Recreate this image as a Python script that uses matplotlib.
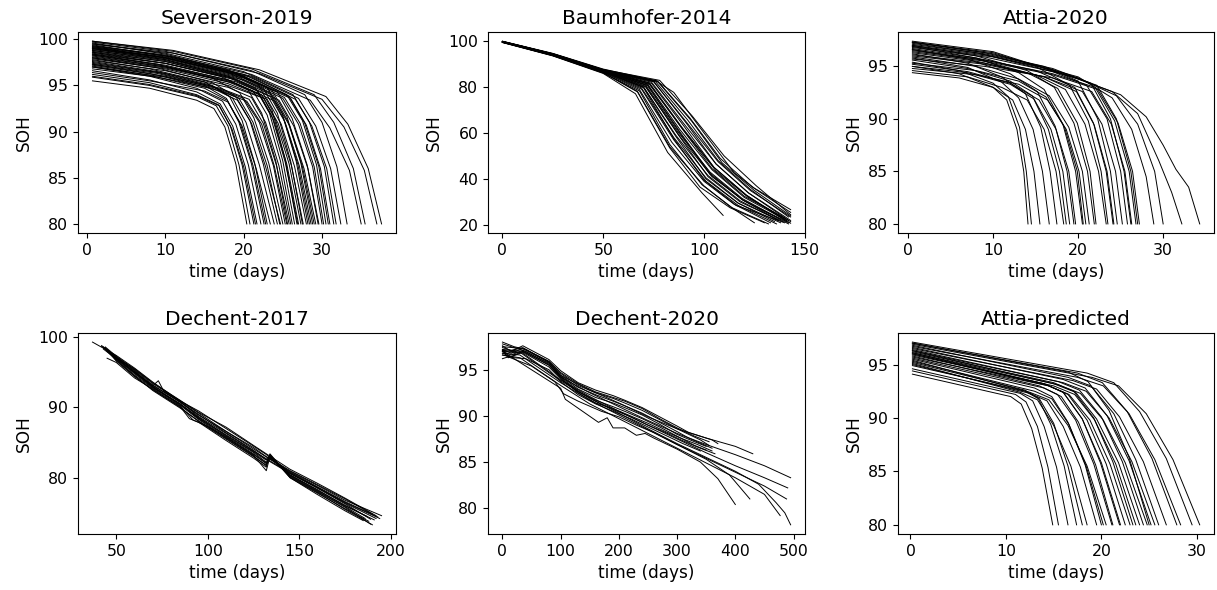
import matplotlib
matplotlib.use("Agg")
import matplotlib.pyplot as plt

# SOH curves, one list of (time in days, SOH) per cell

severson = [
    [(0.7, 95.5), (8, 94.7), (14, 93.4), (16.2, 92.5), (17.6, 90.5), (19.0, 86.5), (20.4, 80)],
    [(0.7, 95.9), (8, 95.0), (14, 93.8), (16.5, 92.8), (18.0, 90.6), (19.4, 86.4), (20.8, 80)],
    [(0.7, 96.2), (8, 95.3), (14, 94.0), (16.8, 92.9), (18.3, 90.6), (19.8, 86.4), (21.3, 80)],
    [(0.7, 96.6), (8, 95.6), (14, 94.3), (17.0, 93.0), (18.6, 90.6), (20.2, 86.2), (21.7, 80)],
    [(0.7, 97.0), (8, 96.0), (14, 94.7), (17.3, 93.3), (19.0, 90.8), (20.6, 86.4), (22.2, 80)],
    [(0.7, 97.3), (8, 96.3), (15, 95.0), (17.8, 93.6), (19.4, 91.0), (21.0, 86.5), (22.6, 80)],
    [(0.7, 97.8), (8, 96.8), (15, 95.4), (18.2, 93.8), (19.8, 91.2), (21.4, 86.6), (23.0, 80)],
    [(0.7, 96.4), (8, 95.5), (15, 94.4), (18.0, 93.2), (19.8, 90.6), (21.6, 86.0), (23.4, 80)],
    [(0.7, 97.6), (9, 96.5), (16, 95.0), (18.6, 93.6), (20.3, 91.0), (22.0, 86.4), (23.9, 80)],
    [(0.7, 98.0), (9, 96.9), (16, 95.3), (19.0, 93.8), (20.8, 91.2), (22.5, 86.5), (24.3, 80)],
    [(0.7, 96.8), (9, 95.9), (16, 94.7), (19.2, 93.4), (21.0, 90.9), (22.8, 86.2), (24.7, 80)],
    [(0.7, 98.4), (9, 97.3), (16, 95.8), (19.5, 94.2), (21.3, 91.5), (23.2, 86.6), (25.0, 80)],
    [(0.7, 97.2), (10, 96.0), (17, 94.6), (20.0, 93.6), (22.0, 91.0), (23.8, 86.3), (25.3, 80)],
    [(0.7, 98.6), (10, 97.4), (17, 96.0), (20.5, 94.6), (22.3, 92.0), (24.1, 86.8), (25.6, 80)],
    [(0.7, 97.5), (10, 96.3), (18, 94.8), (21.0, 93.7), (22.8, 91.0), (24.5, 86.3), (26.0, 80)],
    [(0.7, 99.0), (10, 97.8), (18, 96.0), (21.5, 94.7), (23.3, 92.0), (25.0, 86.8), (26.5, 80)],
    [(0.7, 98.2), (10, 97.0), (18, 95.4), (22.0, 94.0), (23.8, 91.3), (25.5, 86.5), (27.0, 80)],
    [(0.7, 99.2), (10, 98.0), (18, 96.4), (22.5, 94.7), (24.3, 92.0), (26.0, 86.8), (27.5, 80)],
    [(0.7, 97.9), (10, 96.8), (18, 95.2), (23.0, 93.5), (24.8, 90.8), (26.5, 86.2), (28.0, 80)],
    [(0.7, 98.8), (10, 97.7), (19, 95.9), (23.3, 94.2), (25.1, 91.4), (26.9, 86.5), (28.4, 80)],
    [(0.7, 99.4), (10, 98.2), (19, 96.3), (23.6, 94.5), (25.5, 91.7), (27.3, 86.6), (28.8, 80)],
    [(0.7, 98.0), (10, 96.9), (19, 95.2), (24.0, 93.3), (25.9, 90.6), (27.7, 86.0), (29.2, 80)],
    [(0.7, 99.1), (10, 98.0), (19, 96.2), (24.3, 94.3), (26.2, 91.4), (28.1, 86.4), (29.6, 80)],
    [(0.7, 98.5), (10, 97.4), (19, 95.7), (23.8, 93.9), (25.6, 91.2), (27.5, 86.2), (29.0, 80)],
    [(0.7, 97.0), (10, 95.9), (17, 94.4), (20.4, 93.3), (22.3, 90.8), (23.9, 86.3), (25.5, 80)],
    [(0.7, 98.3), (10, 97.1), (18, 95.6), (21.2, 94.4), (23.0, 91.8), (24.7, 86.8), (26.2, 80)],
    [(0.7, 99.6), (10, 98.4), (18, 96.7), (21.8, 95.2), (23.6, 92.4), (25.3, 87.0), (26.8, 80)],
    [(0.7, 98.1), (10, 97.0), (18, 95.5), (22.3, 94.0), (24.1, 91.2), (25.8, 86.5), (27.3, 80)],
    [(0.7, 98.6), (10, 97.6), (20, 95.6), (25.0, 93.6), (27.0, 90.8), (28.8, 86.2), (30.0, 80)],
    [(0.7, 99.3), (10, 98.3), (20, 96.2), (25.5, 94.0), (27.5, 91.2), (29.3, 86.4), (30.5, 80)],
    [(0.7, 98.9), (10, 97.9), (20, 95.9), (26.0, 93.6), (28.0, 90.7), (29.8, 86.0), (31.0, 80)],
    [(0.7, 99.5), (10, 98.5), (20, 96.5), (26.3, 94.0), (28.4, 91.0), (30.3, 86.2), (31.5, 80)],
    [(0.7, 99.1), (10, 98.1), (21, 96.0), (27.0, 93.6), (29.2, 90.6), (31.1, 86.0), (32.4, 80)],
    [(0.7, 99.7), (10, 98.7), (21, 96.6), (27.8, 94.0), (30.0, 91.0), (31.9, 86.2), (33.2, 80)],
    [(0.7, 99.2), (11, 98.1), (21, 96.2), (28.5, 93.4), (31.0, 90.4), (33.5, 85.8), (35.0, 80)],
    [(0.7, 99.8), (11, 98.7), (21, 96.8), (29.0, 94.0), (31.5, 91.0), (34.0, 86.0), (35.5, 80)],
    [(0.7, 99.5), (11, 98.5), (22, 96.3), (30.0, 93.5), (32.8, 90.5), (35.4, 85.8), (37.0, 80)],
    [(0.7, 99.8), (11, 98.8), (22, 96.7), (30.5, 93.8), (33.3, 90.8), (35.9, 86.0), (37.6, 80)],
    [(0.7, 98.8), (10, 97.8), (20, 95.8), (25.2, 93.7), (27.2, 90.9), (29.0, 86.2), (30.2, 80)],
    [(0.7, 99.0), (10, 98.0), (21, 95.9), (26.6, 93.5), (28.7, 90.6), (30.6, 86.0), (31.8, 80)],
    [(0.7, 97.4), (9, 96.4), (16, 94.9), (19.4, 93.6), (21.2, 91.0), (23.0, 86.3), (24.6, 80)],
    [(0.7, 98.7), (10, 97.6), (18, 95.9), (21.8, 94.4), (23.6, 91.7), (25.3, 86.7), (26.9, 80)],
    [(0.7, 97.7), (10, 96.6), (18, 95.0), (22.6, 93.6), (24.4, 90.9), (26.1, 86.3), (27.6, 80)],
    [(0.7, 99.3), (10, 98.2), (19, 96.4), (23.0, 94.8), (24.9, 92.0), (26.7, 86.8), (28.2, 80)],
    [(0.7, 98.4), (10, 97.4), (19, 95.6), (24.5, 93.4), (26.4, 90.6), (28.2, 86.0), (29.5, 80)],
    [(0.7, 96.0), (8, 95.1), (14, 93.9), (16.9, 92.8), (18.5, 90.3), (20.0, 86.2), (21.5, 80)],
    [(0.7, 97.1), (8, 96.1), (15, 94.7), (17.9, 93.4), (19.6, 90.8), (21.2, 86.3), (22.8, 80)],
    [(0.7, 99.0), (10, 98.0), (20, 96.0), (25.8, 93.8), (27.8, 90.9), (29.6, 86.2), (30.8, 80)],
    [(0.7, 98.3), (10, 97.2), (19, 95.4), (23.4, 93.8), (25.3, 91.0), (27.1, 86.3), (28.6, 80)],
    [(0.7, 97.3), (9, 96.3), (17, 94.7), (20.7, 93.5), (22.5, 90.9), (24.2, 86.3), (25.8, 80)],
]

baumhofer = [
    [(0, 99.2), (25, 93.4), (50, 85.8), (66, 77.0), (82, 51.5), (99, 34.0), (109.5, 24.2)],
    [(0, 99.3), (25, 93.6), (50, 86.2), (67, 78.0), (83, 54.0), (100, 37.0), (113, 28.0), (125, 21.0)],
    [(0, 99.4), (25, 93.7), (50, 86.4), (68, 78.8), (84, 56.0), (100, 39.0), (115, 29.0), (133, 21.0)],
    [(0, 99.5), (25, 93.9), (50, 86.7), (69, 79.5), (85, 58.0), (101, 40.5), (117, 29.5), (135, 21.5)],
    [(0, 99.4), (25, 93.8), (50, 86.6), (70, 80.0), (86, 59.0), (102, 41.5), (118, 30.5), (137, 22.0)],
    [(0, 99.6), (25, 94.0), (50, 87.0), (71, 80.8), (87, 60.5), (103, 43.0), (119, 31.5), (138, 22.5)],
    [(0, 99.5), (25, 93.9), (50, 86.8), (70, 79.6), (85, 57.5), (100, 39.5), (116, 28.5), (140, 21.0)],
    [(0, 99.6), (25, 94.1), (50, 87.1), (72, 81.2), (88, 61.5), (104, 44.0), (120, 32.0), (141, 22.0)],
    [(0, 99.5), (25, 94.0), (50, 86.9), (72, 80.8), (88, 60.5), (103, 42.5), (119, 31.0), (142, 21.0)],
    [(0, 99.7), (25, 94.3), (50, 87.4), (73, 81.6), (89, 62.5), (105, 45.0), (121, 33.0), (143, 20.8)],
    [(0, 99.3), (25, 93.5), (50, 86.0), (68, 78.2), (83, 55.0), (99, 37.5), (114, 27.5), (132, 20.5)],
    [(0, 99.6), (25, 94.2), (50, 87.2), (74, 82.0), (90, 64.0), (106, 46.5), (122, 34.0), (142, 22.0)],
    [(0, 99.5), (25, 94.0), (50, 87.0), (75, 82.2), (91, 65.0), (107, 47.5), (123, 35.0), (143, 23.5)],
    [(0, 99.8), (25, 94.5), (50, 87.7), (76, 82.7), (85, 77.6), (100, 60.0), (115, 42.7), (125, 36.0), (143, 26.7)],
    [(0, 99.6), (25, 94.2), (50, 87.3), (77, 82.5), (93, 66.5), (108, 49.0), (124, 36.5), (143, 25.5)],
    [(0, 99.7), (25, 94.4), (50, 87.5), (78, 82.8), (94, 67.5), (110, 50.0), (126, 37.0), (143, 24.5)],
    [(0, 99.5), (25, 93.9), (50, 86.8), (71, 80.3), (87, 59.5), (102, 41.0), (118, 30.0), (139, 21.5)],
    [(0, 99.4), (25, 93.7), (50, 86.5), (69, 79.0), (85, 57.0), (101, 39.0), (117, 28.5), (136, 20.5)],
    [(0, 99.6), (25, 94.1), (50, 87.0), (73, 81.3), (89, 62.0), (104, 44.5), (120, 32.5), (140, 23.0)],
    [(0, 99.5), (25, 94.0), (50, 86.9), (74, 81.5), (90, 63.0), (105, 45.0), (121, 33.0), (141, 21.5)],
    [(0, 99.7), (25, 94.3), (50, 87.4), (75, 82.4), (91, 64.5), (106, 46.5), (122, 34.0), (143, 22.0)],
    [(0, 99.6), (25, 94.2), (50, 87.2), (76, 82.2), (92, 65.5), (107, 48.0), (123, 35.5), (142, 23.5)],
    [(0, 99.4), (25, 93.8), (50, 86.6), (70, 79.8), (86, 58.5), (101, 40.0), (117, 29.5), (138, 21.0)],
    [(0, 99.5), (25, 93.9), (50, 86.8), (72, 80.5), (88, 60.0), (103, 42.0), (119, 31.0), (137, 22.0)],
    [(0, 99.3), (25, 93.6), (50, 86.1), (67, 77.8), (83, 53.5), (98, 36.5), (113, 27.5), (130, 21.0)],
    [(0, 99.6), (25, 94.1), (50, 87.1), (73, 81.0), (90, 61.0), (106, 43.5), (122, 32.0), (143, 21.5)],
    [(0, 99.5), (25, 94.0), (50, 86.9), (71, 80.0), (88, 58.5), (104, 41.0), (120, 30.5), (142, 20.5)],
    [(0, 99.7), (25, 94.3), (50, 87.4), (77, 82.3), (94, 65.0), (109, 47.0), (125, 35.0), (143, 24.0)],
]

attia = [
    [(0.5, 95.0), (6, 94.3), (10, 93.0), (11.6, 91.8), (12.8, 89.0), (13.6, 85.0), (14.1, 80)],
    [(0.5, 95.4), (6, 94.6), (10, 93.4), (11.8, 92.1), (13.1, 89.2), (13.9, 85.0), (14.5, 80)],
    [(0.5, 94.4), (6, 93.9), (10, 93.0), (12.3, 91.8), (13.8, 89.0), (14.8, 85.0), (15.5, 80)],
    [(0.5, 95.8), (7, 94.9), (11, 93.5), (13.0, 92.0), (14.7, 89.0), (15.8, 85.0), (16.6, 80)],
    [(0.5, 96.2), (7, 95.3), (11, 94.0), (13.8, 92.4), (15.6, 89.2), (16.7, 85.0), (17.5, 80)],
    [(0.5, 94.6), (7, 94.0), (11, 93.0), (14.0, 91.8), (16.0, 89.0), (17.4, 85.0), (18.3, 80)],
    [(0.5, 95.6), (7, 94.8), (12, 93.6), (14.6, 92.2), (16.5, 89.0), (17.8, 85.0), (18.6, 80)],
    [(0.5, 96.6), (7, 95.7), (12, 94.3), (15.2, 92.6), (17.3, 89.3), (18.7, 85.0), (19.5, 80)],
    [(0.5, 95.2), (7, 94.5), (12, 93.4), (15.4, 91.8), (17.4, 89.0), (18.9, 85.0), (19.7, 80)],
    [(0.5, 96.9), (8, 95.8), (13, 94.4), (16.0, 92.8), (18.2, 89.5), (19.7, 85.0), (20.5, 80)],
    [(0.5, 95.9), (8, 95.0), (13, 93.8), (16.6, 92.2), (18.9, 89.2), (20.5, 85.0), (21.3, 80)],
    [(0.5, 97.0), (8, 96.0), (14, 94.6), (17.2, 93.0), (19.5, 89.6), (21.1, 85.0), (21.9, 80)],
    [(0.5, 96.3), (8, 95.5), (15, 94.2), (18.5, 92.8), (20.8, 89.5), (22.4, 85.0), (23.3, 80)],
    [(0.5, 97.2), (8, 96.3), (15, 95.0), (19.0, 93.2), (21.2, 89.8), (22.7, 85.0), (23.5, 80)],
    [(0.5, 96.7), (8, 95.8), (15, 94.6), (19.6, 93.0), (21.8, 89.6), (23.3, 85.0), (24.1, 80)],
    [(0.5, 97.3), (9, 96.3), (16, 95.0), (20.0, 93.6), (22.3, 90.0), (23.8, 85.0), (24.6, 80)],
    [(0.5, 96.0), (9, 95.2), (16, 94.0), (20.5, 92.6), (22.8, 89.5), (24.4, 85.0), (25.2, 80)],
    [(0.5, 96.8), (9, 95.9), (17, 94.5), (21.0, 93.2), (23.4, 90.0), (25.0, 85.0), (25.8, 80)],
    [(0.5, 97.1), (9, 96.2), (17, 94.8), (21.5, 93.4), (23.8, 90.0), (25.4, 85.0), (26.2, 80)],
    [(0.5, 96.5), (9, 95.6), (17, 94.3), (22.0, 93.0), (24.3, 89.8), (26.0, 85.0), (26.8, 80)],
    [(0.5, 96.4), (9, 95.5), (17, 94.2), (22.3, 92.8), (24.7, 89.6), (26.4, 85.0), (27.2, 80)],
    [(0.5, 97.3), (10, 96.2), (20, 94.0), (24.0, 92.0), (26.3, 89.0), (28.0, 84.5), (28.9, 80)],
    [(0.5, 96.9), (10, 95.9), (20, 93.9), (24.5, 92.2), (27.0, 89.5), (29.0, 85.0), (30.0, 80)],
    [(0.5, 97.3), (10, 96.3), (20, 93.8), (24.0, 92.6), (27.0, 90.5), (29.5, 86.0), (31.0, 83.0), (32.2, 80)],
    [(0.5, 97.4), (10, 96.4), (20, 93.8), (25.0, 92.3), (28.0, 90.2), (30.0, 87.5), (31.5, 85.2),
     (33.0, 83.5), (34.3, 80)],
    [(0.5, 95.3), (8, 94.6), (13, 93.6), (16.2, 92.1), (18.4, 89.2), (19.9, 85.0), (20.6, 80)],
    [(0.5, 96.1), (9, 95.3), (16, 94.0), (19.8, 92.6), (21.9, 89.4), (23.4, 85.0), (24.2, 80)],
    [(0.5, 95.7), (9, 95.0), (17, 93.9), (21.6, 92.6), (23.9, 89.5), (25.5, 85.0), (26.3, 80)],
    [(0.5, 97.0), (9, 96.1), (17, 94.7), (22.2, 93.2), (24.5, 90.0), (26.2, 85.0), (27.0, 80)],
    [(0.5, 94.8), (8, 94.2), (13, 93.3), (16.4, 91.8), (18.6, 89.0), (20.1, 85.0), (20.9, 80)],
    [(0.5, 96.6), (8, 95.7), (14, 94.4), (17.6, 92.9), (19.9, 89.6), (21.4, 85.0), (22.1, 80)],
    [(0.5, 95.0), (7, 94.4), (12, 93.3), (14.8, 91.9), (16.8, 89.0), (18.2, 85.0), (19.0, 80)],
]

dechent_2017 = [
    [(37, 99.3), (50, 97.4), (60, 95.6), (70, 93.6), (80, 91.8), (95, 89.2), (110, 86.6), (125, 84.1),
     (133, 82.8), (145, 80.9), (160, 78.9), (175, 76.8), (195, 74.6)],
    [(42, 98.7), (50, 97.0), (60, 95.0), (70, 93.1), (73, 93.8), (76, 92.3), (85, 90.8), (95, 89.0),
     (110, 86.4), (125, 83.9), (132, 82.6), (145, 80.6), (160, 78.6), (175, 76.4), (192, 74.2)],
    [(43, 98.5), (50, 96.8), (60, 94.6), (70, 92.7), (85, 90.2), (92, 88.2), (100, 87.3), (110, 85.8),
     (125, 83.2), (132, 81.0), (134, 83.0), (145, 80.2), (160, 78.0), (175, 75.8), (189, 73.4)],
    [(44, 98.6), (50, 97.3), (60, 95.4), (70, 93.4), (85, 90.9), (95, 89.5), (110, 87.0), (125, 84.5),
     (132, 83.3), (135, 82.6), (145, 81.0), (160, 79.0), (175, 77.0), (190, 74.8)],
    [(45, 97.0), (50, 96.4), (60, 94.2), (70, 92.6), (85, 90.0), (95, 88.0), (110, 85.5), (125, 83.0),
     (132, 81.8), (134, 83.3), (145, 80.0), (160, 77.8), (175, 75.6), (188, 73.8)],
    [(43, 98.3), (50, 96.9), (60, 95.1), (70, 93.0), (85, 90.5), (95, 88.6), (110, 86.0), (125, 83.6),
     (132, 82.2), (134, 83.0), (145, 80.4), (160, 78.3), (175, 76.0), (191, 74.0)],
    [(44, 98.4), (50, 97.1), (60, 95.3), (70, 93.2), (85, 90.7), (95, 88.9), (110, 86.6), (125, 84.3),
     (132, 83.0), (145, 80.8), (160, 78.7), (175, 76.6), (193, 74.4)],
    [(42, 98.8), (50, 97.2), (60, 95.2), (70, 92.9), (85, 90.3), (95, 88.3), (110, 85.7), (125, 83.3),
     (132, 82.0), (134, 82.9), (145, 80.3), (160, 78.1), (175, 75.9), (186, 74.2)],
    [(45, 98.2), (50, 96.6), (60, 94.4), (70, 92.5), (85, 90.1), (90, 88.4), (95, 87.9), (110, 85.3),
     (125, 82.8), (132, 81.5), (134, 83.4), (145, 80.1), (160, 77.9), (175, 75.5), (190, 73.3)],
    [(43, 98.6), (50, 97.1), (60, 95.5), (70, 93.5), (85, 91.0), (95, 89.3), (110, 87.2), (125, 84.6),
     (132, 83.4), (145, 81.2), (160, 79.2), (175, 77.1), (192, 74.6)],
    [(44, 98.5), (50, 97.0), (60, 94.9), (70, 92.9), (85, 90.4), (95, 88.5), (110, 86.1), (125, 83.7),
     (132, 82.5), (134, 83.1), (145, 80.6), (160, 78.5), (175, 76.3), (189, 74.1)],
    [(46, 97.9), (50, 96.9), (60, 94.8), (70, 92.8), (85, 90.5), (95, 88.4), (110, 85.9), (125, 83.4),
     (132, 82.1), (134, 82.8), (145, 80.4), (160, 78.2), (175, 76.1), (187, 74.5)],
    [(44, 98.3), (50, 97.1), (60, 95.0), (70, 93.1), (85, 90.8), (95, 88.7), (110, 86.3), (125, 83.8),
     (132, 82.7), (145, 80.7), (160, 78.6), (175, 76.5), (194, 74.2)],
    [(45, 98.0), (50, 96.7), (60, 94.5), (70, 92.4), (85, 89.9), (95, 88.1), (110, 85.6), (125, 83.1),
     (132, 81.7), (134, 83.2), (145, 80.0), (160, 77.6), (175, 75.3), (185, 73.9)],
]

dechent_2020 = [
    [(0, 97.6), (15, 97.0), (35, 97.6), (80, 96.1), (100, 94.9), (130, 93.6), (160, 92.8), (190, 92.2),
     (210, 91.7), (240, 90.9), (270, 89.9), (300, 88.9), (320, 88.2), (340, 87.8), (360, 87.4), (370, 87.0)],
    [(0, 97.2), (15, 96.8), (35, 97.3), (80, 95.9), (100, 94.6), (130, 93.3), (160, 92.5), (190, 91.9),
     (210, 91.4), (240, 90.6), (270, 89.6), (300, 88.6), (320, 88.0), (340, 87.4), (355, 86.8)],
    [(0, 97.0), (15, 96.6), (35, 97.1), (80, 95.7), (100, 94.4), (130, 93.1), (160, 92.3), (190, 91.6),
     (210, 91.1), (240, 90.3), (270, 89.3), (300, 88.3), (320, 87.6), (345, 86.9), (360, 86.5)],
    [(0, 97.4), (15, 97.1), (35, 97.4), (80, 95.8), (100, 94.3), (130, 92.9), (160, 92.0), (190, 91.4),
     (210, 90.9), (240, 90.1), (270, 89.1), (300, 88.0), (330, 87.2), (350, 86.7)],
    [(0, 96.8), (15, 96.4), (35, 96.9), (80, 95.3), (100, 94.0), (130, 92.6), (160, 91.7), (190, 91.0),
     (210, 90.5), (240, 89.7), (270, 88.8), (300, 87.8), (330, 86.8), (350, 86.3)],
    [(0, 97.8), (20, 97.4), (40, 97.0), (80, 95.6), (100, 94.2), (130, 92.7), (160, 91.6), (190, 90.7),
     (220, 89.9), (250, 89.0), (280, 88.2), (310, 87.3), (340, 86.5), (365, 85.9)],
    [(0, 96.6), (20, 96.3), (40, 96.2), (80, 95.0), (100, 93.7), (130, 92.3), (160, 91.3), (190, 90.5),
     (220, 89.7), (250, 88.8), (280, 87.9), (310, 87.0), (340, 86.2)],
    [(0, 98.0), (20, 97.5), (40, 97.2), (80, 95.9), (100, 94.7), (130, 93.5), (160, 92.6), (190, 92.0),
     (210, 91.6), (240, 90.8), (270, 89.7), (300, 88.7), (330, 87.8), (355, 87.2)],
    [(0, 97.1), (10, 96.3), (35, 97.0), (80, 95.5), (100, 94.1), (130, 92.5), (160, 91.4), (190, 90.8),
     (220, 90.0), (250, 89.2), (280, 88.3), (310, 87.5), (335, 86.9), (360, 86.2)],
    [(0, 97.5), (35, 97.3), (80, 95.8), (100, 94.4), (150, 92.8), (200, 91.4), (250, 89.9), (300, 88.6),
     (350, 87.6), (400, 86.7), (430, 85.9)],
    [(0, 97.2), (35, 97.0), (80, 95.5), (100, 94.2), (150, 92.5), (200, 91.0), (250, 89.5), (300, 88.1),
     (350, 86.9), (400, 85.8), (450, 84.6), (495, 83.3)],
    [(0, 97.0), (35, 96.8), (100, 93.9), (150, 92.1), (200, 90.5), (250, 89.0), (300, 87.5), (350, 86.0),
     (400, 84.6), (450, 83.3), (490, 82.2)],
    [(0, 96.8), (30, 96.6), (100, 93.6), (150, 91.7), (200, 90.1), (250, 88.5), (300, 86.9), (350, 85.4),
     (400, 83.9), (450, 82.4), (488, 81.0)],
    [(0, 96.6), (30, 96.3), (100, 93.3), (150, 91.3), (200, 89.7), (250, 88.1), (300, 86.5), (350, 84.9),
     (400, 83.3), (450, 81.5), (477, 79.2)],
    [(0, 97.1), (30, 96.9), (100, 93.8), (150, 91.9), (200, 90.3), (250, 88.6), (300, 87.0), (350, 85.5),
     (400, 84.0), (440, 82.6), (470, 80.6), (485, 79.5), (495, 78.2)],
    [(0, 97.0), (50, 95.0), (100, 93.0), (108, 91.8), (165, 89.3), (180, 89.8), (190, 88.7), (210, 88.7),
     (230, 87.9), (245, 88.1), (260, 87.6), (300, 86.4), (340, 85.0), (370, 83.2), (400, 80.4)],
    [(0, 96.2), (10, 96.4), (50, 95.4), (90, 93.7), (105, 92.4), (130, 91.6), (170, 90.5), (200, 89.9),
     (230, 89.0), (260, 88.2), (300, 86.9), (350, 85.3), (390, 83.6), (425, 81.0)],
]

attia_predicted = [
    [(0.2, 94.1), (10.5, 92.0), (11.6, 91.3), (12.7, 89.0), (13.8, 85.3), (14.9, 80)],
    [(0.2, 94.4), (11.0, 92.2), (12.1, 91.5), (13.3, 89.2), (14.4, 85.4), (15.5, 80)],
    [(0.2, 94.6), (11.5, 92.3), (12.8, 91.6), (14.0, 89.2), (15.3, 85.4), (16.5, 80)],
    [(0.2, 94.9), (12.0, 92.5), (13.4, 91.8), (14.7, 89.4), (16.1, 85.5), (17.4, 80)],
    [(0.2, 95.2), (12.0, 92.6), (13.5, 91.8), (15.0, 89.5), (16.5, 85.5), (18.0, 80)],
    [(0.2, 95.0), (12.5, 92.3), (14.3, 91.6), (16.0, 89.2), (17.8, 85.4), (19.5, 80)],
    [(0.2, 95.5), (13.0, 92.8), (14.8, 92.0), (16.5, 89.6), (18.3, 85.6), (20.0, 80)],
    [(0.2, 95.3), (13.0, 92.5), (14.8, 91.8), (16.6, 89.4), (18.4, 85.5), (20.2, 80)],
    [(0.2, 95.8), (13.5, 93.0), (15.4, 92.2), (17.3, 89.8), (19.2, 85.7), (21.1, 80)],
    [(0.2, 95.6), (14.0, 92.8), (15.8, 92.0), (17.6, 89.6), (19.4, 85.6), (21.2, 80)],
    [(0.2, 96.0), (14.0, 93.2), (16.0, 92.4), (18.0, 89.9), (19.9, 85.8), (21.9, 80)],
    [(0.2, 95.7), (14.5, 93.0), (16.5, 92.2), (18.5, 89.8), (20.5, 85.7), (22.5, 80)],
    [(0.2, 96.2), (15.0, 93.3), (17.1, 92.5), (19.2, 90.0), (21.2, 85.9), (23.3, 80)],
    [(0.2, 95.9), (15.0, 93.0), (17.2, 92.2), (19.3, 89.8), (21.5, 85.7), (23.6, 80)],
    [(0.2, 96.4), (15.5, 93.4), (17.7, 92.6), (20.0, 90.1), (22.2, 85.9), (24.4, 80)],
    [(0.2, 96.1), (15.5, 93.1), (17.8, 92.3), (20.2, 89.8), (22.5, 85.8), (24.8, 80)],
    [(0.2, 96.6), (16.0, 93.6), (18.3, 92.8), (20.6, 90.2), (22.9, 86.0), (25.2, 80)],
    [(0.2, 96.3), (16.0, 93.3), (18.4, 92.5), (20.8, 90.0), (23.2, 85.9), (25.6, 80)],
    [(0.2, 96.8), (16.5, 93.8), (18.9, 93.0), (21.3, 90.4), (23.6, 86.1), (26.0, 80)],
    [(0.2, 96.5), (17.0, 93.5), (19.5, 92.7), (21.9, 90.1), (24.4, 85.9), (26.8, 80)],
    [(0.2, 97.0), (17.5, 94.2), (20.1, 93.3), (22.7, 90.6), (25.3, 86.2), (27.9, 80)],
    [(0.2, 96.7), (17.5, 93.8), (20.2, 93.0), (22.9, 90.4), (25.6, 86.1), (28.3, 80)],
    [(0.2, 97.1), (18.5, 94.2), (21.3, 93.3), (24.0, 90.6), (26.8, 86.2), (29.5, 80)],
    [(0.2, 96.9), (19.0, 93.8), (21.8, 93.0), (24.7, 90.4), (27.5, 86.1), (30.3, 80)],
    [(0.2, 95.4), (12.5, 92.4), (14.5, 91.7), (16.5, 89.3), (18.5, 85.5), (20.5, 80)],
    [(0.2, 96.0), (14.5, 93.0), (16.6, 92.2), (18.8, 89.8), (20.9, 85.7), (23.0, 80)],
    [(0.2, 95.1), (11.5, 92.4), (13.3, 91.7), (15.0, 89.3), (16.8, 85.5), (18.5, 80)],
    [(0.2, 96.3), (15.0, 93.2), (17.3, 92.4), (19.5, 89.9), (21.8, 85.8), (24.0, 80)],
    [(0.2, 97.0), (16.5, 94.3), (18.6, 93.4), (20.8, 90.7), (22.9, 86.3), (25.0, 80)],
    [(0.2, 96.1), (14.0, 93.2), (16.0, 92.4), (18.0, 89.9), (20.0, 85.8), (22.0, 80)],
]

titles = ["Severson-2019", "Baumhofer-2014", "Attia-2020",
          "Dechent-2017", "Dechent-2020", "Attia-predicted"]
datasets = [severson, baumhofer, attia, dechent_2017, dechent_2020, attia_predicted]
xticks = [[0, 10, 20, 30], [0, 50, 100, 150], [0, 10, 20, 30],
          [50, 100, 150, 200], [0, 100, 200, 300, 400, 500], [0, 10, 20, 30]]
yticks = [[80, 85, 90, 95, 100], [20, 40, 60, 80, 100], [80, 85, 90, 95],
          [80, 90, 100], [80, 85, 90, 95], [80, 85, 90, 95]]

# axes boxes in figure fraction (left, bottom, width, height)
boxes = [
    [0.0641, 0.605, 0.2613, 0.3407], [0.4010, 0.605, 0.2605, 0.3407], [0.7379, 0.605, 0.2597, 0.3407],
    [0.0641, 0.095, 0.2613, 0.3407], [0.4010, 0.095, 0.2605, 0.3407], [0.7379, 0.095, 0.2597, 0.3407],
]

fig = plt.figure(figsize=(12.17, 5.9), dpi=100)

for title, curves, box, xt, yt in zip(titles, datasets, boxes, xticks, yticks):
    ax = fig.add_axes(box)
    for curve in curves:
        t = [p[0] for p in curve]
        soh = [p[1] for p in curve]
        ax.plot(t, soh, color="black", linewidth=0.7)
    ax.set_xticks(xt)
    ax.set_yticks(yt)
    ax.tick_params(labelsize=11.3)
    ax.set_title(title, fontsize=14.5)
    ax.set_xlabel("time (days)", fontsize=12.2)
    ax.set_ylabel("SOH", fontsize=12.2)

fig.savefig("out.png", dpi=100)
